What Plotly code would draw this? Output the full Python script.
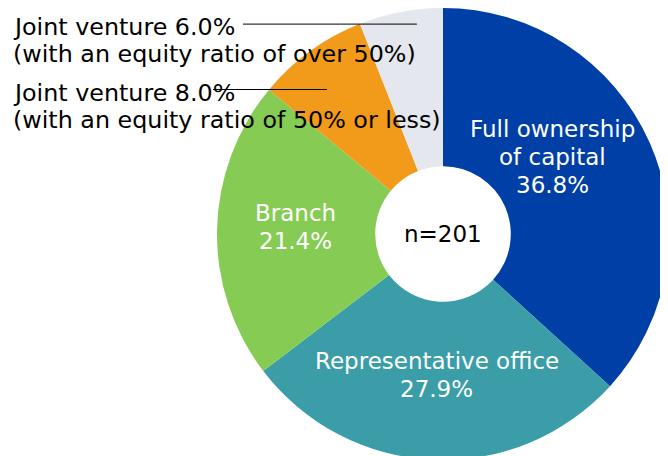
import math
import plotly.graph_objects as go

# shares of entry type (%), n=201
names = ["Full ownership|of capital", "Representative office", "Branch",
         "Joint venture", "Joint venture"]
notes = ["", "", "", "(with an equity ratio of 50% or less)",
         "(with an equity ratio of over 50%)"]
values = [36.8, 27.9, 21.4, 8.0, 6.0]
colors = ["#003FA5", "#3A9DA8", "#86CB54", "#F29B1B", "#E4E7EE"]
n_total = 201

W, H = 668, 456
OFF = 8  # page body margin
dom_x = [0.3129, 0.9895]
dom_y = [0.00877, 1.0]
FONT = "DejaVu Sans"
FS = 23
FS_OUT = 23.8
LINE_H = 28

# label placement: (angle shift in deg, radius fraction)
inner_place = {0: (-11.2, 0.59), 1: (0.0, 0.625), 2: (1.5, 0.655)}
leader_place = {3: (-2.8, 0.82), 4: (3.7, 0.936)}
outer_text_y = {3: 93, 4: 27}      # page y of first label line
leader_x0 = {3: 213, 4: 243}       # page x where the leader line starts

fig = go.Figure(go.Pie(
    values=values,
    labels=[f"s{i}" for i in range(len(values))],
    textinfo="none",
    marker=dict(colors=colors, line=dict(width=0)),
    hole=0.30,
    sort=False,
    direction="clockwise",
    rotation=0,
    domain=dict(x=dom_x, y=dom_y),
    showlegend=False,
    hoverinfo="skip",
))


def to_paper(px, py):
    return (px - OFF) / W, 1 - (py - OFF) / H


cx = OFF + (dom_x[0] + dom_x[1]) / 2 * W
cy = OFF + (1 - (dom_y[0] + dom_y[1]) / 2) * H
R = min((dom_x[1] - dom_x[0]) * W, (dom_y[1] - dom_y[0]) * H) / 2


def add_text(px, py, txt, color, anchor="center", size=FS):
    x, y = to_paper(px, py)
    fig.add_annotation(x=x, y=y, xref="paper", yref="paper", xanchor=anchor,
                       yanchor="middle", showarrow=False, text=txt,
                       font=dict(family=FONT, size=size, color=color))


add_text(cx, cy, f"n={n_total}", "black")

total = sum(values)
cum = 0
for i, v in enumerate(values):
    mid = (cum + v / 2) / total * 360
    cum += v
    if i in inner_place:
        shift, frac = inner_place[i]
        a = math.radians(mid + shift)
        px = cx + frac * R * math.sin(a)
        py = cy - frac * R * math.cos(a)
        lines = names[i].split("|") + [f"{v:.1f}%"]
        for k, ln in enumerate(lines):
            add_text(px, py + (k - (len(lines) - 1) / 2) * LINE_H, ln, "white")
    else:
        shift, frac = leader_place[i]
        a = math.radians(mid + shift)
        px = cx + frac * R * math.sin(a)
        py = cy - frac * R * math.cos(a)
        ty = outer_text_y[i]
        add_text(11, ty, f"{names[i]} {v:.1f}%", "black", anchor="left", size=FS_OUT)
        add_text(11, ty + 27, notes[i], "black", anchor="left", size=FS_OUT)
        x0, y0 = to_paper(leader_x0[i], py)
        x1, _ = to_paper(px, py)
        fig.add_shape(type="line", xref="paper", yref="paper",
                      x0=x0, x1=x1, y0=y0, y1=y0,
                      line=dict(color="black", width=1))

fig.update_layout(width=W, height=H, margin=dict(l=0, r=0, t=0, b=0),
                  paper_bgcolor="white", plot_bgcolor="white")

fig.write_html("out.html")
